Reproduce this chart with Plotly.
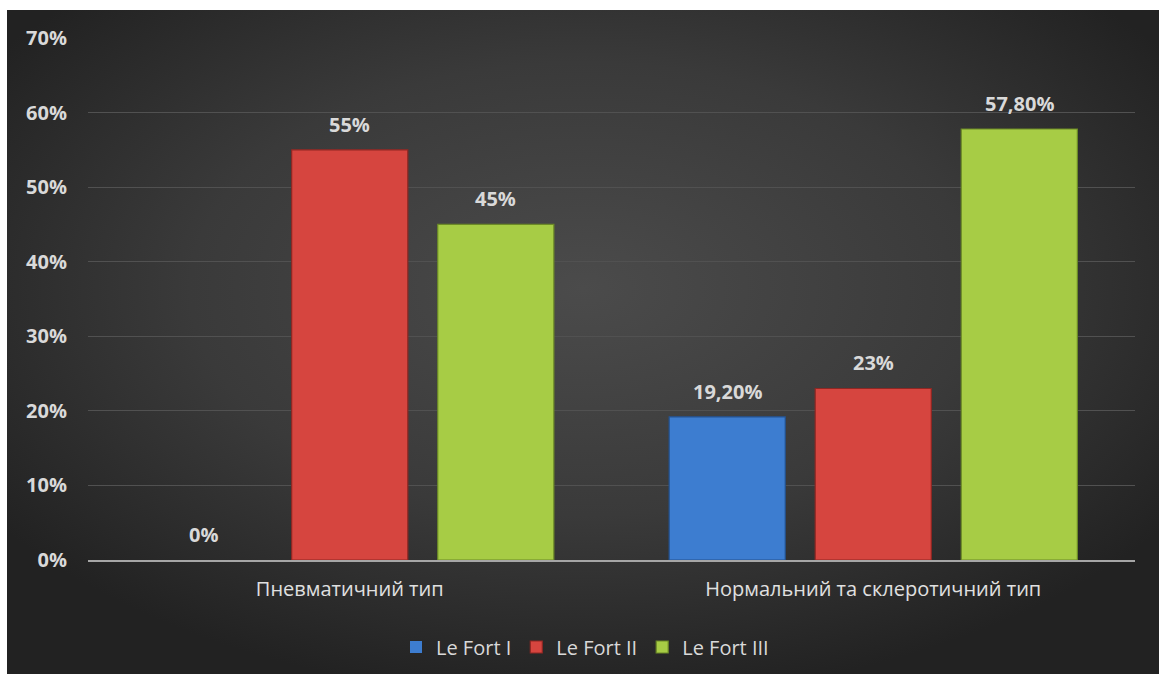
import base64
import plotly.graph_objects as go

# Chart data
categories = ["Пневматичний тип", "Нормальний та склеротичний тип"]
series_names = ["Le Fort I", "Le Fort II", "Le Fort III"]
le_fort_1 = [0.0, 19.2]
le_fort_2 = [55.0, 23.0]
le_fort_3 = [45.0, 57.8]
label_1 = ["0%", "19,20%"]
label_2 = ["55%", "23%"]
label_3 = ["45%", "57,80%"]
y_ticks = [0, 10, 20, 30, 40, 50, 60, 70]
y_tick_text = [f"{v}%" for v in y_ticks]

series_values = [le_fort_1, le_fort_2, le_fort_3]
series_labels = [label_1, label_2, label_3]
fills = ["#3d7dd0", "#d6453f", "#a7cc45"]
edges = ["#24528f", "#8f2723", "#6c8a26"]

x_pos = list(range(len(categories)))
BARGAP = 0.163
GROUPGAP = 0.205
slot = (1 - BARGAP) / len(series_names)

fig = go.Figure()
for i, (name, vals) in enumerate(zip(series_names, series_values)):
    fig.add_trace(go.Bar(
        name=name,
        x=x_pos,
        y=vals,
        marker=dict(
            color=fills[i],
            line=dict(color=edges[i], width=[1.2 if v > 0 else 0 for v in vals]),
        ),
        hoverinfo="skip",
    ))

# Value labels above each bar
annotations = []
for i, (vals, labs) in enumerate(zip(series_values, series_labels)):
    for xc, v, t in zip(x_pos, vals, labs):
        annotations.append(dict(
            x=xc + (i - 1) * slot, y=v, xref="x", yref="y",
            text=t, showarrow=False, yanchor="bottom", yshift=10,
            font=dict(family="Open Sans", size=20, color="#d9d9d9", weight="bold"),
        ))

# Dark radial background panel
svg = (
    '<svg xmlns="http://www.w3.org/2000/svg" width="1152" height="664" '
    'preserveAspectRatio="none" viewBox="0 0 1152 664">'
    '<defs><radialGradient id="g" cx="0.5" cy="0.42" r="0.62">'
    '<stop offset="0" stop-color="#4b4b4b"/>'
    '<stop offset="0.55" stop-color="#3a3a3a"/>'
    '<stop offset="1" stop-color="#222222"/>'
    '</radialGradient></defs>'
    '<rect width="1152" height="664" fill="url(#g)"/></svg>'
)
bg_src = "data:image/svg+xml;base64," + base64.b64encode(svg.encode()).decode()

W, H = 1159, 674
ml, mr, mt, mb = 88, 24, 38, 114
pw, ph = W - ml - mr, H - mt - mb

fig.update_layout(
    width=W, height=H,
    margin=dict(l=ml, r=mr, t=mt, b=mb, autoexpand=False),
    paper_bgcolor="white",
    plot_bgcolor="rgba(0,0,0,0)",
    barmode="group",
    bargap=BARGAP,
    bargroupgap=GROUPGAP,
    showlegend=True,
    legend=dict(
        orientation="h", x=(585 - ml) / pw, xanchor="center",
        y=-87 / ph, yanchor="middle",
        font=dict(family="Open Sans", size=20, color="#d9d9d9"),
        itemwidth=30, tracegroupgap=0,
        bgcolor="rgba(0,0,0,0)",
    ),
    images=[dict(
        source=bg_src, xref="paper", yref="paper",
        x=(7 - ml) / pw, y=(H - mb - 10) / ph,
        sizex=(W - 7) / pw, sizey=(H - 10) / ph,
        sizing="stretch", xanchor="left", yanchor="top", layer="below",
    )],
    annotations=annotations,
    xaxis=dict(
        tickvals=x_pos, ticktext=categories, range=[-0.5, 1.5],
        showgrid=False, zeroline=False, showline=True, automargin=False,
        linecolor="#a6a6a6", linewidth=2, ticks="",
        ticklabelstandoff=10,
        tickfont=dict(family="Open Sans", size=20, color="#e0e0e0"),
    ),
    yaxis=dict(
        range=[0, 70], tickvals=y_ticks, ticktext=y_tick_text, automargin=False,
        showgrid=True, gridcolor="#515151", gridwidth=1,
        zeroline=False, showline=False, ticks="",
        ticklabelstandoff=20,
        tickfont=dict(family="Open Sans", size=20, color="#d9d9d9", weight="bold"),
    ),
)

fig.write_html("out.html")
